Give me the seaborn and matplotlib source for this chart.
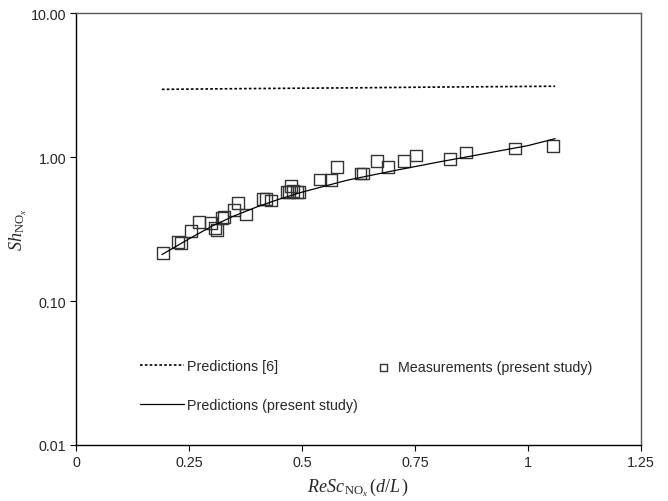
import matplotlib
matplotlib.use("Agg")
import matplotlib.pyplot as plt
import seaborn as sns
import pandas as pd
from matplotlib.ticker import FixedLocator, FixedFormatter, NullLocator

# Measurements (present study)
meas_x = [0.192, 0.226, 0.232, 0.254, 0.272, 0.299, 0.308, 0.312, 0.323, 0.327,
          0.350, 0.358, 0.376, 0.414, 0.420, 0.431, 0.467, 0.471, 0.476, 0.480,
          0.489, 0.493, 0.540, 0.564, 0.577, 0.630, 0.635, 0.666, 0.690, 0.726,
          0.752, 0.827, 0.863, 0.971, 1.055]
meas_y = [0.215, 0.257, 0.253, 0.306, 0.354, 0.348, 0.322, 0.311, 0.377, 0.383,
          0.428, 0.480, 0.400, 0.510, 0.510, 0.500, 0.571, 0.571, 0.630, 0.580,
          0.571, 0.571, 0.700, 0.690, 0.850, 0.770, 0.770, 0.940, 0.850, 0.940,
          1.020, 0.970, 1.070, 1.150, 1.190]

# Predictions (present study)
pred_x = [0.19, 0.25, 0.30, 0.35, 0.40, 0.45, 0.50, 0.60, 0.70, 0.80, 0.90, 1.00, 1.06]
pred_y = [0.21, 0.27, 0.33, 0.39, 0.45, 0.51, 0.57, 0.69, 0.80, 0.92, 1.05, 1.20, 1.34]

# Predictions [6]
ref_x = [0.19, 0.40, 0.60, 0.80, 1.06]
ref_y = [2.95, 2.99, 3.02, 3.06, 3.10]

x_ticks = [0, 0.25, 0.5, 0.75, 1.0, 1.25]
x_tick_labels = ["0", "0.25", "0.5", "0.75", "1", "1.25"]
y_ticks = [0.01, 0.1, 1.0, 10.0]
y_tick_labels = ["0.01", "0.10", "1.00", "10.00"]

sns.set_style("white")
plt.rcParams["font.family"] = ["Liberation Sans", "DejaVu Sans"]
plt.rcParams["mathtext.fontset"] = "custom"
plt.rcParams["mathtext.rm"] = "Liberation Serif"
plt.rcParams["mathtext.it"] = "Liberation Serif:italic"
plt.rcParams["mathtext.bf"] = "Liberation Serif:bold"

fig = plt.figure(figsize=(6.68, 5.02), dpi=100)
ax = fig.add_axes([76 / 668, (502 - 446) / 502, 565 / 668, 432 / 502])

df_meas = pd.DataFrame({"x": meas_x, "y": meas_y})
df_pred = pd.DataFrame({"x": pred_x, "y": pred_y})
df_ref = pd.DataFrame({"x": ref_x, "y": ref_y})

sns.lineplot(data=df_ref, x="x", y="y", ax=ax, color="black", lw=1.2,
             linestyle=(0, (1.6, 1.3)), estimator=None, sort=True,
             label="Predictions [6]")
sns.lineplot(data=df_pred, x="x", y="y", ax=ax, color="black", lw=0.9,
             estimator=None, sort=True, label="Predictions (present study)")
sns.scatterplot(data=df_meas, x="x", y="y", ax=ax, marker="s", s=68,
                facecolors="none", edgecolors="#333333", linewidths=1.0,
                label="Measurements (present study)")

ax.set_yscale("log")
ax.set_xlim(0, 1.25)
ax.set_ylim(0.01, 10)
ax.xaxis.set_major_locator(FixedLocator(x_ticks))
ax.xaxis.set_major_formatter(FixedFormatter(x_tick_labels))
ax.yaxis.set_major_locator(FixedLocator(y_ticks))
ax.yaxis.set_major_formatter(FixedFormatter(y_tick_labels))
ax.yaxis.set_minor_locator(NullLocator())
ax.tick_params(axis="both", which="major", direction="out", length=4,
               width=0.8, color="black", labelsize=10.3, pad=3,
               bottom=True, left=True)

for side in ["left", "bottom"]:
    ax.spines[side].set_color("black")
    ax.spines[side].set_linewidth(1.0)
for side in ["top", "right"]:
    ax.spines[side].set_color("#555555")
    ax.spines[side].set_linewidth(1.0)
    ax.spines[side].set_visible(True)

ax.set_xlabel(r"$ReSc_{\,\mathrm{NO}_x}\,(d/L\,)$", fontsize=13, labelpad=5)
ax.set_ylabel(r"$Sh_{\mathrm{NO}_x}$", fontsize=13)
ax.yaxis.set_label_coords(-0.083, 0.5)

handles, labels = ax.get_legend_handles_labels()
hmap = dict(zip(labels, handles))
leg1 = ax.legend([hmap["Predictions [6]"], hmap["Predictions (present study)"]],
                 ["Predictions [6]", "Predictions (present study)"],
                 loc="upper left", bbox_to_anchor=(0.113, 0.199),
                 frameon=False, fontsize=10.3, handlelength=3.1,
                 handletextpad=0.2, labelspacing=1.75, borderpad=0,
                 borderaxespad=0)
ax.add_artist(leg1)
ax.legend([hmap["Measurements (present study)"]],
          ["Measurements (present study)"],
          loc="center left", bbox_to_anchor=(0.531, 0.1806),
          frameon=False, fontsize=10.3, handlelength=1.0,
          handletextpad=0.55, borderpad=0, borderaxespad=0, markerscale=0.6)

fig.savefig("out.png", dpi=100)
